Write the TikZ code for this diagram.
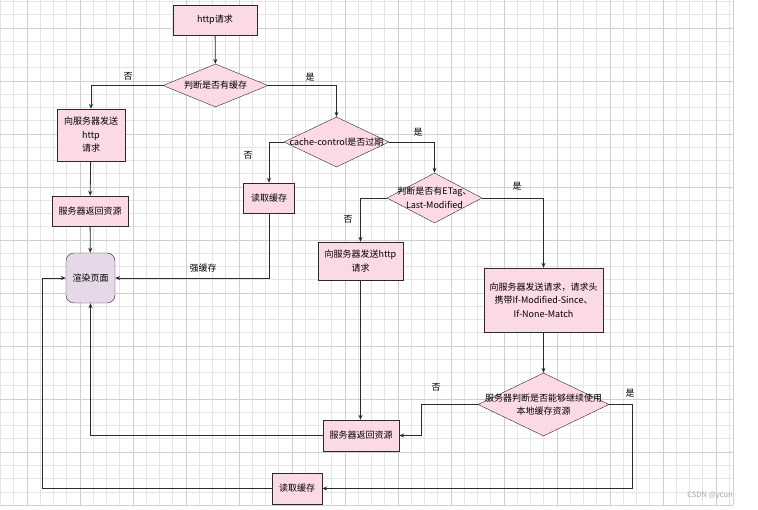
\documentclass[tikz,border=0pt]{standalone}
\usepackage{fontspec}
\setmainfont{Noto Sans CJK SC}
\usepackage{xcolor}
\usetikzlibrary{shapes.geometric,arrows.meta}

\definecolor{boxpink}{HTML}{FBDAE4}
\definecolor{renderlilac}{HTML}{E6D8E8}
\definecolor{linegray}{HTML}{2B2B2B}

\tikzset{
  procbox/.style={draw=linegray, fill=boxpink, rectangle, inner sep=1pt, align=center,
    font=\fontsize{9}{13.5}\selectfont},
  decision/.style={draw=linegray, fill=boxpink, diamond, inner sep=0pt,
    label={[align=center, font=\fontsize{9}{13.5}\selectfont]center:#1}},
  flow/.style={draw=linegray, line width=0.8pt, -{Stealth[length=5pt,width=4pt]}},
  lbl/.style={font=\fontsize{9}{10}\selectfont},
}

\begin{document}
\begin{tikzpicture}[x=1pt,y=-1pt]
\useasboundingbox (0,0) rectangle (758,510);
\fill[white] (0,0) rectangle (758,510);
% grid
\foreach \gx in {0,...,55} \draw[gray!20, line width=0.5pt] ({0.3+13.25*\gx},0) -- ({0.3+13.25*\gx},505);
\foreach \gy in {0,...,37} \draw[gray!20, line width=0.5pt] (0,{1.5+13.25*\gy}) -- (733,{1.5+13.25*\gy});
\foreach \gx in {0,...,13} \draw[gray!38, line width=0.5pt] ({26.8+53*\gx},0) -- ({26.8+53*\gx},505);
\foreach \gy in {0,...,9} \draw[gray!38, line width=0.5pt] (0,{28+53*\gy}) -- (733,{28+53*\gy});
\draw[gray!38, line width=0.5pt] (733,0) -- (733,505);

% boxes
\node[procbox, minimum width=84pt, minimum height=30pt] (http) at (215,20) {http请求};
\node[decision={判断是否有缓存}, minimum width=105pt, minimum height=43pt] (q1) at (215.5,85.5) {};
\node[procbox, minimum width=68pt, minimum height=52pt] (sendA) at (91,135) {向服务器发送\\http\\请求};
\node[procbox, minimum width=76pt, minimum height=30pt] (retA) at (90,211) {服务器返回资源};
\node[procbox, fill=renderlilac, rounded corners=8pt, minimum width=49pt, minimum height=50pt] (render) at (90.5,278) {渲染页面};
\node[decision={cache-control是否过期}, minimum width=105pt, minimum height=50pt] (q2) at (336.5,142) {};
\node[procbox, minimum width=51pt, minimum height=30pt] (readA) at (269,198) {读取缓存};
\node[decision={判断是否有ETag、\\Last-Modified}, minimum width=95pt, minimum height=50pt] (q3) at (434.5,198) {};
\node[procbox, minimum width=85pt, minimum height=38pt] (sendB) at (360.5,261) {向服务器发送http\\请求};
\node[procbox, minimum width=119pt, minimum height=64pt] (sendC) at (543.5,300) {向服务器发送请求，请求头\\携带If-Modified-Since、\\If-None-Match};
\node[decision={服务器判断是否能够继续使用\\本地缓存资源}, minimum width=131pt, minimum height=63pt] (q4) at (543.5,404.5) {};
\node[procbox, minimum width=76pt, minimum height=31pt] (retB) at (361,435.5) {服务器返回资源};
\node[procbox, minimum width=50pt, minimum height=31pt] (readB) at (297,488.5) {读取缓存};

% labels
\node[lbl] (noA) at (128,76) {否};
\node[lbl] (yesA) at (310,77) {是};
\node[lbl] (noB) at (248,155) {否};
\node[lbl] (yesB) at (418,132) {是};
\node[lbl] (noC) at (348,219) {否};
\node[lbl] (yesC) at (517,186) {是};
\node[lbl] (strong) at (203,268) {强缓存};
\node[lbl] (noD) at (436,387) {否};
\node[lbl] (yesD) at (630,393) {是};
\node[font=\fontsize{7.5}{9}\selectfont, text=gray!70] (mark) at (710,496) {CSDN @ycun};

% connectors
\draw[flow] (http) -- (q1);
\draw[flow] (q1.west) -| (sendA);
\draw[flow] (q1.east) -| (q2);
\draw[flow] (sendA) -- (retA);
\draw[flow] (retA) -- (render);
\draw[flow] (q2.west) -| (readA);
\draw[flow] (q2.east) -| (q3);
\draw[flow] (readA) |- (render);
\draw[flow] (q3.west) -| (sendB);
\draw[flow] (q3.east) -| (sendC);
\draw[flow] (sendB) -- (sendB |- retB.north);
\draw[flow] (sendC) -- (q4);
\draw[flow] (q4.west) -- ++(-56,0) |- (retB);
\draw[flow] (q4.east) -- ++(23,0) |- (readB);
\draw[flow] (retB) -| (render);
\draw[flow] (readB) -| ([xshift=-23pt]render.west) -- (render);
\end{tikzpicture}
\end{document}
